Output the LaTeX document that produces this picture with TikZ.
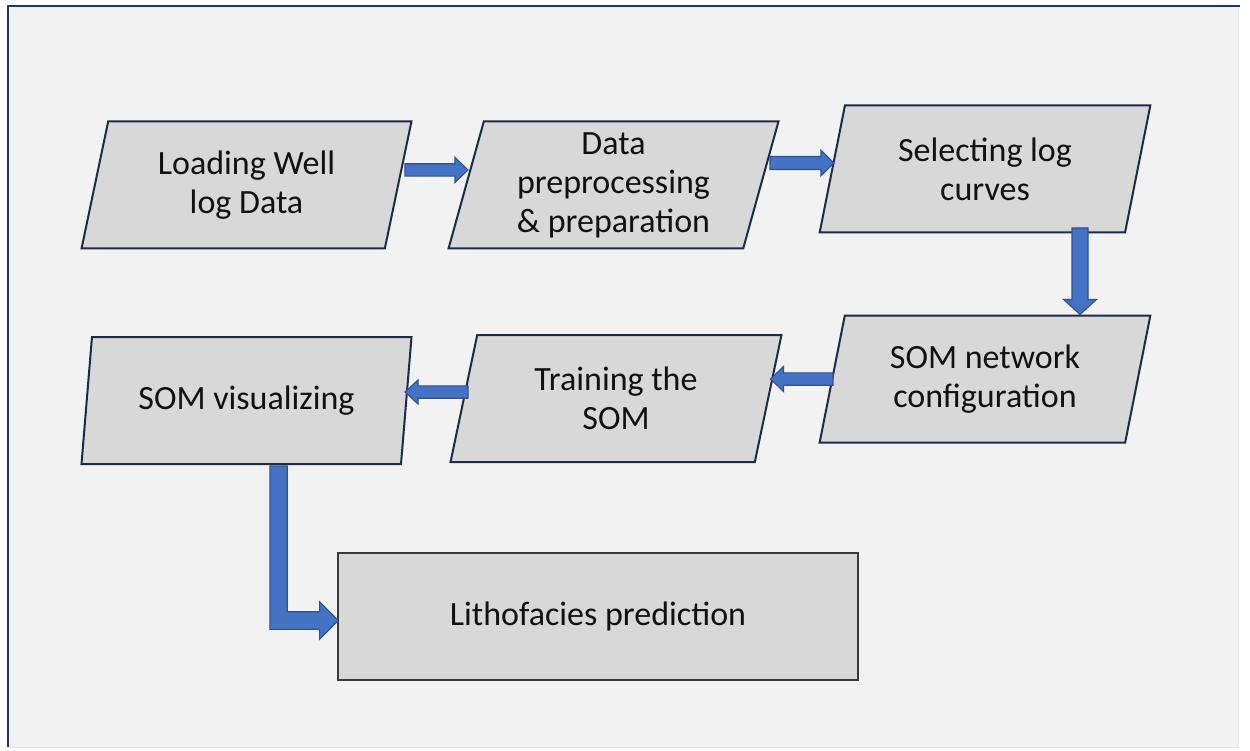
\documentclass[tikz,border=0pt]{standalone}
\usepackage{fontspec}
\setmainfont{Carlito}
\usetikzlibrary{shapes.geometric,calc}

\definecolor{pagebg}{HTML}{F2F2F2}
\definecolor{pageedge}{HTML}{E4E4E4}
\definecolor{framenavy}{HTML}{1F3864}
\definecolor{boxfill}{HTML}{D8D8D8}
\definecolor{boxline}{HTML}{1E2A48}
\definecolor{rectline}{HTML}{3A3A3A}
\definecolor{arrowfill}{HTML}{4472C4}
\definecolor{arrowline}{HTML}{2F528F}
\definecolor{ink}{HTML}{111111}

\begin{document}
\begin{tikzpicture}[x=1pt,y=-1pt,
  every node/.style={font=\fontsize{34}{39}\selectfont, text=ink, align=center},
  iobox/.style={trapezium, trapezium left angle=76, trapezium right angle=104,
    trapezium stretches=true, minimum width=331pt, minimum height=127pt,
    inner sep=0pt, fill=boxfill, draw=boxline, line width=2pt},
  resultbox/.style={rectangle, minimum width=520pt, minimum height=127pt,
    inner sep=0pt, fill=boxfill, draw=rectline, line width=1.6pt},
  arrowbody/.style={fill=arrowfill, draw=arrowline, line width=1.1pt, line join=miter},
  % block arrow: #1 shaft half width, #2 head half width, #3 head length
  blockarrow/.style n args={3}{arrowbody,
    to path={
      ($(\tikztostart)!#1pt!90:(\tikztotarget)$)
      -- ($(\tikztotarget)!{veclen(#3,#1)*1pt}!{-atan2(#1,#3)}:(\tikztostart)$)
      -- ($(\tikztotarget)!{veclen(#3,#2)*1pt}!{-atan2(#2,#3)}:(\tikztostart)$)
      -- (\tikztotarget)
      -- ($(\tikztotarget)!{veclen(#3,#2)*1pt}!{atan2(#2,#3)}:(\tikztostart)$)
      -- ($(\tikztotarget)!{veclen(#3,#1)*1pt}!{atan2(#1,#3)}:(\tikztostart)$)
      -- ($(\tikztostart)!#1pt!-90:(\tikztotarget)$)
      -- cycle}}
]
\useasboundingbox (0,0) rectangle (1250,751);

% page and frame
\fill[white] (0,0) rectangle (1250,751);
\filldraw[fill=pagebg, draw=pageedge, line width=1pt] (8,6) rectangle (1238,747);
\draw[framenavy, line width=2.5pt] (8,747) -- (8,6) -- (1240,6);

% process steps
\node[iobox] (load)   at (246.5,185)   {Loading Well\\log Data};
\node[iobox] (prep)   at (613.5,185)   {Data\\preprocessing\\\& preparation};
\node[iobox] (select) at (985,169)     {Selecting log\\curves};
\node[iobox] (config) at (985,379)     {SOM network\\configuration};
\node[iobox] (train)  at (616,398.5)   {Training the\\SOM};
\node[iobox] (visual) at (246.5,400.5) {SOM visualizing};
\node[resultbox] (litho) at (598,616.5) {Lithofacies prediction};

% arrow end points on the step borders
\coordinate (a1s) at ($(load.center)+(158.5,-15)$);
\coordinate (a1e) at ($(prep.center)+(-145.5,-15)$);
\coordinate (a2s) at ($(prep.center)+(156.5,-22)$);
\coordinate (a2e) at ($(select.center)+(-151,-6)$);
\coordinate (a3s) at ($(select.center)+(95,59)$);
\coordinate (a3e) at ($(config.north)+(95,0)$);
\coordinate (a4s) at ($(config.center)+(-152,0)$);
\coordinate (a4e) at ($(train.center)+(154.5,-19.5)$);
\coordinate (a5s) at ($(train.center)+(-148,-6.5)$);
\coordinate (a5e) at ($(visual.center)+(158.5,-8.5)$);

\draw[blockarrow={6.2}{12.5}{13}] (a1s) to (a1e);
\draw[blockarrow={6.5}{12.7}{13}] (a2s) to (a2e);
\draw[blockarrow={8}{16.5}{15}]   (a3s) to (a3e);
\draw[blockarrow={6.2}{12.5}{13}] (a4s) to (a4e);
\draw[blockarrow={6.2}{12}{13}]   (a5s) to (a5e);

% elbow arrow down to the prediction box
\coordinate (elbowtop) at ($(visual.south)+(32,1)$);
\coordinate (elbowtip) at ($(litho.west)+(1,4)$);
\draw[arrowbody] ($(elbowtop)+(-8.7,0)$) -- ($(elbowtop)+(8.7,0)$)
  -- ($(elbowtop|-elbowtip)+(8.7,-8.8)$) -- ($(elbowtip)+(-18.6,-8.8)$)
  -- ($(elbowtip)+(-18.6,-18.8)$) -- (elbowtip)
  -- ($(elbowtip)+(-18.6,18.8)$) -- ($(elbowtip)+(-18.6,8.8)$)
  -- ($(elbowtop|-elbowtip)+(-8.7,8.8)$) -- cycle;
\end{tikzpicture}
\end{document}
